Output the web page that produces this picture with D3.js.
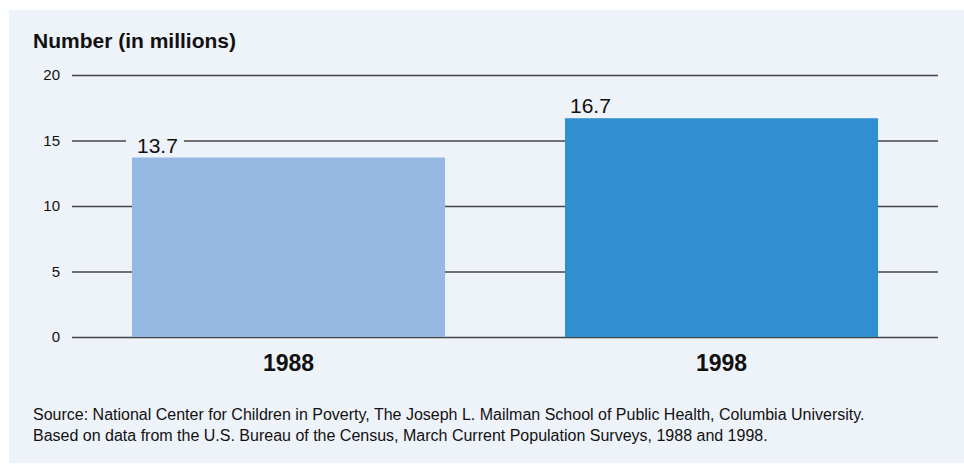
<!DOCTYPE html>
<html>
<head>
<meta charset="utf-8">
<script src="https://cdn.jsdelivr.net/npm/d3@7"></script>
<style>
  body { margin: 0; background: #fff; }
  svg { display: block; font-family: "Liberation Sans", Arial, sans-serif; }
</style>
</head>
<body>
<svg width="964" height="466"></svg>
<script>
// chart data
const years = ['1988', '1998']
const counts = [13.7, 16.7]
const yTicks = [0, 5, 10, 15, 20]
const barColors = ['#95b9e2', '#2f8fcf']
const sourceLines = [
  'Source: National Center for Children in Poverty, The Joseph L. Mailman School of Public Health, Columbia University.',
  'Based on data from the U.S. Bureau of the Census, March Current Population Surveys, 1988 and 1998.'
]

const svg = d3.select('svg')
const bg = '#eef2f9'

// panel
svg.append('rect')
  .attr('x', 9).attr('y', 10)
  .attr('width', 955).attr('height', 453)
  .attr('fill', bg)

const xScale = d3.scaleBand()
  .domain(years)
  .range([72, 938])
  .paddingInner(0.277)
  .paddingOuter(0.1385)

const yScale = d3.scaleLinear()
  .domain([0, 20])
  .range([337, 75])

// title
svg.append('text')
  .attr('x', 33).attr('y', 48)
  .attr('font-size', 21).attr('font-weight', 'bold')
  .attr('fill', '#111')
  .text('Number (in millions)')

// gridlines + tick labels
const yAxis = d3.axisLeft(yScale)
  .tickValues(yTicks)
  .tickSize(-866)
  .tickPadding(12)
  .tickFormat(d3.format('d'))

const gy = svg.append('g')
  .attr('transform', 'translate(72,0)')
  .call(yAxis)
gy.select('.domain').remove()
gy.selectAll('.tick line')
  .attr('stroke', '#444')
  .attr('stroke-width', 1.3)
gy.selectAll('.tick text')
  .attr('font-size', 15)
  .attr('fill', '#111')
  .attr('font-family', '"Liberation Sans", Arial, sans-serif')

// bars
svg.append('g')
  .selectAll('rect')
  .data(counts)
  .enter()
  .append('rect')
  .attr('x', (d, i) => xScale(years[i]))
  .attr('y', d => yScale(d))
  .attr('width', xScale.bandwidth())
  .attr('height', d => yScale(0) - yScale(d))
  .attr('fill', (d, i) => barColors[i])

// value labels with background knockout
const labels = svg.append('g')
  .selectAll('g')
  .data(counts)
  .enter()
  .append('g')
labels.append('rect')
  .attr('x', (d, i) => xScale(years[i]) - 6)
  .attr('y', d => yScale(d) - 25)
  .attr('width', 58)
  .attr('height', 23)
  .attr('fill', bg)
labels.append('text')
  .attr('x', (d, i) => xScale(years[i]) + 5)
  .attr('y', d => yScale(d) - 5)
  .attr('font-size', 21)
  .attr('fill', '#111')
  .text(d => d.toFixed(1))

// x axis labels
const xAxis = d3.axisBottom(xScale).tickSize(0).tickPadding(0)
const gx = svg.append('g')
  .attr('transform', 'translate(0,355)')
  .call(xAxis)
gx.select('.domain').remove()
gx.selectAll('.tick text')
  .attr('font-size', 23)
  .attr('font-weight', 'bold')
  .attr('fill', '#111')
  .attr('font-family', '"Liberation Sans", Arial, sans-serif')
  .attr('dy', '0.71em')

// source note
svg.append('g')
  .selectAll('text')
  .data(sourceLines)
  .enter()
  .append('text')
  .attr('x', 33)
  .attr('y', (d, i) => 420 + i * 21)
  .attr('font-size', 16)
  .attr('fill', '#111')
  .text(d => d)
</script>
</body>
</html>
